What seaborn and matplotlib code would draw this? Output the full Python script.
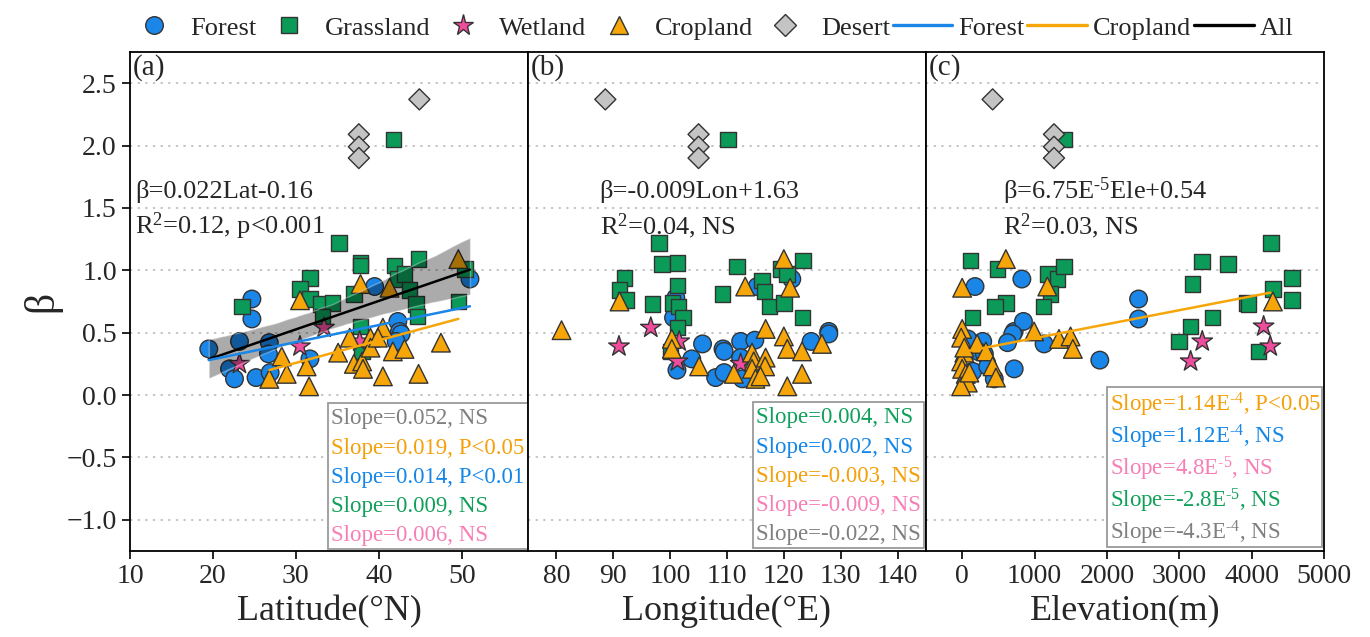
import numpy as np
import pandas as pd
import matplotlib
matplotlib.use("Agg")
import matplotlib.pyplot as plt
import seaborn as sns
from matplotlib.lines import Line2D
from matplotlib.patches import Rectangle

# ---------------- data ----------------
# Panel (a): latitude
lat_forest = [19.5, 24.7, 24.7, 23.2, 22.0, 22.6, 25.2, 26.8, 26.7, 26.9, 31.7, 39.5, 42.3, 42.5, 42.7, 42.1, 51.0]
beta_forest_lat = [0.37, 0.77, 0.61, 0.43, 0.21, 0.13, 0.14, 0.42, 0.33, 0.18, 0.29, 0.87, 0.59, 0.51, 0.49, 0.43, 0.93]
lat_grass = [23.5, 31.7, 30.5, 31.7, 33.0, 34.4, 33.2, 37.8, 37.8, 37.0, 37.8, 38.0, 41.9, 42.3, 43.1, 44.8, 43.7, 44.5, 44.7, 49.6, 50.4, 35.2, 41.8]
beta_grass_lat = [0.71, 0.94, 0.85, 0.77, 0.73, 0.74, 0.63, 1.06, 1.04, 0.81, 0.55, 0.35, 1.04, 0.93, 0.97, 1.09, 0.84, 0.73, 0.63, 0.75, 1.01, 1.22, 2.05]
lat_wet = [23.2, 30.5, 33.4, 37.7]
beta_wet_lat = [0.25, 0.39, 0.54, 0.43]
lat_crop = [26.8, 28.9, 28.3, 30.5, 31.3, 31.6, 35.1, 36.5, 37.0, 38.0, 38.1, 37.8, 39.0, 39.0, 40.5, 40.5, 41.3, 41.7, 43.1, 44.8, 47.5, 49.6, 39.9]
beta_crop_lat = [0.13, 0.17, 0.31, 0.76, 0.23, 0.07, 0.34, 0.46, 0.25, 0.27, 0.21, 0.89, 0.46, 0.38, 0.54, 0.15, 0.86, 0.35, 0.37, 0.17, 0.42, 1.09, 0.46]
lat_desert = [44.9, 37.6, 37.6, 37.6]
beta_desert_lat = [2.37, 2.09, 1.99, 1.90]

# Panel (b): longitude
lon_forest = [101.0, 100.6, 115.3, 121.4, 127.9, 127.9, 124.8, 105.7, 109.3, 109.5, 112.4, 114.9, 112.4, 103.8, 101.2, 108.0, 109.5, 112.7]
beta_forest_lon = [0.78, 0.62, 0.87, 0.93, 0.51, 0.49, 0.43, 0.41, 0.37, 0.35, 0.43, 0.44, 0.30, 0.29, 0.20, 0.14, 0.18, 0.13]
lon_grass = [98.6, 101.3, 92.0, 91.1, 92.2, 101.3, 96.9, 100.4, 101.5, 102.3, 101.3, 111.8, 119.4, 120.6, 123.4, 116.2, 116.6, 109.2, 117.5, 120.0, 123.3, 100.1, 110.2, 98.0]
beta_grass_lon = [1.05, 1.06, 0.94, 0.84, 0.76, 0.88, 0.73, 0.74, 0.71, 0.62, 0.54, 1.03, 1.01, 0.97, 1.08, 0.92, 0.83, 0.81, 0.71, 0.74, 0.62, 0.35, 2.05, 1.22]
lon_wet = [96.6, 91.0, 101.3, 112.4, 101.6]
beta_wet_lon = [0.54, 0.39, 0.27, 0.25, 0.43]
lon_crop = [80.9, 91.1, 100.3, 100.3, 105.1, 113.2, 116.8, 120.0, 121.1, 120.0, 120.6, 123.2, 126.7, 123.2, 120.6, 111.2, 114.4, 114.7, 116.8, 116.7, 114.4, 115.0, 115.9]
beta_crop_lon = [0.52, 0.75, 0.45, 0.37, 0.23, 0.87, 0.53, 1.09, 0.86, 0.47, 0.37, 0.35, 0.41, 0.17, 0.07, 0.17, 0.34, 0.27, 0.30, 0.23, 0.21, 0.13, 0.15]
lon_desert = [88.6, 105.0, 105.0, 105.0]
beta_desert_lon = [2.37, 2.09, 1.99, 1.90]

# Panel (c): elevation
ele_forest = [178, 825, 2438, 2438, 719, 847, 700, 627, 1132, 1902, 719, 284, 215, 307, 444, 146, 78, 353]
beta_forest_ele = [0.87, 0.93, 0.77, 0.61, 0.51, 0.59, 0.49, 0.42, 0.41, 0.28, 0.21, 0.43, 0.35, 0.33, 0.13, 0.19, 0.45, 0.23]
ele_grass = [114, 490, 1187, 1315, 1407, 1223, 604, 453, 1122, 146, 3318, 3675, 4555, 4560, 4294, 3180, 3927, 3960, 3460, 3157, 2997, 4097, 4271, 1407]
beta_grass_ele = [1.08, 1.01, 0.97, 0.93, 1.03, 0.81, 0.74, 0.71, 0.71, 0.62, 1.07, 1.05, 0.94, 0.76, 0.85, 0.89, 0.74, 0.73, 0.62, 0.55, 0.43, 0.35, 1.22, 2.05]
ele_wet = [4166, 4258, 3318, 3157]
beta_wet_ele = [0.55, 0.39, 0.43, 0.27]
ele_crop = [604, 0, 1177, 994, 1338, 1498, 1530, 4294, 0, -14, 206, 329, 30, -14, 0, 50, 78, -14, 421, 467, 30, 100]
beta_crop_ele = [1.09, 0.86, 0.87, 0.51, 0.45, 0.47, 0.37, 0.75, 0.53, 0.46, 0.41, 0.35, 0.34, 0.27, 0.21, 0.17, 0.10, 0.07, 0.23, 0.14, 0.38, 0.18]
ele_desert = [421, 1269, 1269, 1269]
beta_desert_ele = [2.37, 2.09, 1.99, 1.90]

# fitted lines: (slope, intercept, x_start, x_end)
fit_a_forest = (0.0137, 0.013, 19.5, 51.0)
fit_a_crop = (0.018, -0.282, 26.8, 49.6)
fit_c_crop = (1.12e-4, 0.344, 54, 4260)

H = "\u2010"  # hyphen used inside superscripts
slopes_a = ["Slope=0.052, NS", "Slope=0.019, P<0.05", "Slope=0.014, P<0.01", "Slope=0.009, NS", "Slope=0.006, NS"]
slopes_a_types = ["Desert", "Cropland", "Forest", "Grassland", "Wetland"]
slopes_b = ["Slope=0.004, NS", "Slope=0.002, NS", "Slope=-0.003, NS", "Slope=-0.009, NS", "Slope=-0.022, NS"]
slopes_b_types = ["Grassland", "Forest", "Cropland", "Wetland", "Desert"]
slopes_c = ["Slope=1.14E$^{" + H + "4}$, P<0.05", "Slope=1.12E$^{" + H + "4}$, NS", "Slope=4.8E$^{" + H + "5}$, NS",
            "Slope=-2.8E$^{" + H + "5}$, NS", "Slope=-4.3E$^{" + H + "4}$, NS"]
slopes_c_types = ["Cropland", "Forest", "Wetland", "Grassland", "Desert"]

eq_a = ["β=0.022Lat-0.16", "R$^{2}$=0.12, p<0.001"]
eq_b = ["β=-0.009Lon+1.63", "R$^{2}$=0.04, NS"]
eq_c = ["β=6.75E$^{" + H + "5}$Ele+0.54", "R$^{2}$=0.03, NS"]

# ---------------- style ----------------
sns.set_theme(style="ticks")
plt.rcParams["font.family"] = ["Liberation Serif", "DejaVu Serif"]
plt.rcParams["mathtext.fontset"] = "custom"
plt.rcParams["mathtext.rm"] = "Liberation Serif"
plt.rcParams["mathtext.it"] = "Liberation Serif:italic"
plt.rcParams["mathtext.default"] = "regular"

TYPES = ["Forest", "Grassland", "Wetland", "Cropland", "Desert"]
COLORS = {"Forest": "#1A86E8", "Grassland": "#0B9A58", "Wetland": "#EE4C9C",
          "Cropland": "#F6A609", "Desert": "#C4C4C4"}
TEXTCOL = {"Forest": "#1486E8", "Grassland": "#11A05A", "Wetland": "#F77FB5",
           "Cropland": "#F5A00A", "Desert": "#7F7F7F"}
MARKERS = {"Forest": "o", "Grassland": "s", "Wetland": "*", "Cropland": "^", "Desert": "D"}
SIZES = {"Forest": 160, "Grassland": 125, "Wetland": 240, "Cropland": 180, "Desert": 115}
EDGE = "#333333"


def make_df(groups):
    rows = []
    for t, xs, ys in groups:
        for x, y in zip(xs, ys):
            rows.append((t, x, y))
    return pd.DataFrame(rows, columns=["type", "x", "y"])


df_a = make_df([("Forest", lat_forest, beta_forest_lat), ("Grassland", lat_grass, beta_grass_lat),
                ("Wetland", lat_wet, beta_wet_lat), ("Cropland", lat_crop, beta_crop_lat),
                ("Desert", lat_desert, beta_desert_lat)])
df_b = make_df([("Forest", lon_forest, beta_forest_lon), ("Grassland", lon_grass, beta_grass_lon),
                ("Wetland", lon_wet, beta_wet_lon), ("Cropland", lon_crop, beta_crop_lon),
                ("Desert", lon_desert, beta_desert_lon)])
df_c = make_df([("Forest", ele_forest, beta_forest_ele), ("Grassland", ele_grass, beta_grass_ele),
                ("Wetland", ele_wet, beta_wet_ele), ("Cropland", ele_crop, beta_crop_ele),
                ("Desert", ele_desert, beta_desert_ele)])

fig, axes = plt.subplots(1, 3, figsize=(13.7, 6.37), dpi=100, sharey=True)
fig.subplots_adjust(left=0.0949, right=0.9664, top=0.9184, bottom=0.135, wspace=0)

panels = [
    (axes[0], df_a, (10, 58), [10, 20, 30, 40, 50], "(a)", eq_a, 0.012,
     slopes_a, slopes_a_types, (0.497, 0.004, 0.503, 0.293)),
    (axes[1], df_b, (75, 145), [80, 90, 100, 110, 120, 130, 140], "(b)", eq_b, 0.18,
     slopes_b, slopes_b_types, (0.565, 0.006, 0.43, 0.293)),
    (axes[2], df_c, (-500, 5000), [0, 1000, 2000, 3000, 4000, 5000], "(c)", eq_c, 0.193,
     slopes_c, slopes_c_types, (0.455, 0.008, 0.54, 0.320)),
]

for ax, df, xlim, xticks, tag, eq, eqx, slopes, stypes, box in panels:
    ax.set_ylim(-1.25, 2.75)
    ax.set_xlim(*xlim)
    ax.set_yticks([-1.0, -0.5, 0.0, 0.5, 1.0, 1.5, 2.0, 2.5])
    ax.set_xticks(xticks)
    for yv in [-1.0, -0.5, 0.0, 0.5, 1.0, 1.5, 2.0, 2.5]:
        ax.axhline(yv, color="#B5B5B5", lw=1.1, ls=(0, (1.5, 3.5)), zorder=0)
    sns.scatterplot(data=df, x="x", y="y", hue="type", style="type", size="type",
                    palette=COLORS, markers=MARKERS, sizes=SIZES, hue_order=TYPES,
                    style_order=TYPES, size_order=TYPES, edgecolor=EDGE, linewidth=1.0,
                    legend=False, ax=ax, zorder=1)
    ax.text(0.008, 0.995, tag, transform=ax.transAxes, fontsize=21, va="top", ha="left")
    ax.text(eqx, 0.72, eq[0], transform=ax.transAxes, fontsize=19, va="center", ha="left")
    ax.text(eqx, 0.65, eq[1], transform=ax.transAxes, fontsize=19, va="center", ha="left")
    x0, y0, w, h = box
    ax.add_patch(Rectangle((x0, y0), w, h, transform=ax.transAxes, facecolor="white",
                           edgecolor="#9A9A9A", lw=1.3, zorder=5))
    n = len(slopes)
    for i, (s, t) in enumerate(zip(slopes, stypes)):
        yy = y0 + h - (i + 0.55) * (h / n)
        ax.text(x0 + 0.008, yy, s, transform=ax.transAxes, fontsize=16.5, color=TEXTCOL[t],
                va="center", ha="left", zorder=6)
    for sp in ax.spines.values():
        sp.set_visible(True)
        sp.set_color("black")
        sp.set_linewidth(1.3)
    ax.tick_params(axis="x", direction="out", length=6, width=1.2, labelsize=20, color="black")
    ax.tick_params(axis="y", direction="out", length=6, width=1.2, labelsize=20, color="black")

axes[1].tick_params(axis="y", left=False)
axes[2].tick_params(axis="y", left=False)
axes[0].yaxis.set_major_formatter(
    matplotlib.ticker.FuncFormatter(lambda v, p: f"{v:.1f}".replace("-", "\u2212")))

# Panel (a) regression: all sites with confidence band
sns.regplot(data=df_a, x="x", y="y", scatter=False, color="black", ci=95, n_boot=1000, seed=1,
            line_kws={"lw": 1.8, "zorder": 3}, ax=axes[0])
band = axes[0].collections[-1]
band.set_facecolor("black")
band.set_alpha(0.33)
band.set_zorder(2)


def fit_df(fit):
    s, b, x0, x1 = fit
    xs = np.array([x0, x1])
    return pd.DataFrame({"x": xs, "y": s * xs + b})


sns.lineplot(data=fit_df(fit_a_forest), x="x", y="y", color="#1A86E8", lw=1.8, ax=axes[0], zorder=3)
sns.lineplot(data=fit_df(fit_a_crop), x="x", y="y", color="#F6A609", lw=1.8, ax=axes[0], zorder=3)
sns.lineplot(data=fit_df(fit_c_crop), x="x", y="y", color="#F6A609", lw=1.8, ax=axes[2], zorder=3)
for ax, lab in zip(axes, ["Latitude(°N)", "Longitude(°E)", "Elevation(m)"]):
    ax.set_xlabel(lab, fontsize=26)
    ax.set_ylabel("")
axes[0].set_ylabel("β", fontsize=30)

# legend
handles = []
labels = []
for t in TYPES:
    handles.append(Line2D([], [], marker=MARKERS[t], linestyle="None", markerfacecolor=COLORS[t],
                          markeredgecolor=EDGE, markersize=np.sqrt(SIZES[t]), markeredgewidth=1.0))
    labels.append(t)
for t, c in [("Forest", "#1A86E8"), ("Cropland", "#F6A609"), ("All", "black")]:
    handles.append(Line2D([], [], color=c, lw=2.4))
    labels.append(t)
fig.legend(handles, labels, loc="center", bbox_to_anchor=(709 / 1370, 1 - 28 / 637), ncol=8,
           frameon=False, fontsize=19, handlelength=2.26, handletextpad=0.23, columnspacing=0.1,
           borderaxespad=0)

fig.savefig("out.png", dpi=100)
